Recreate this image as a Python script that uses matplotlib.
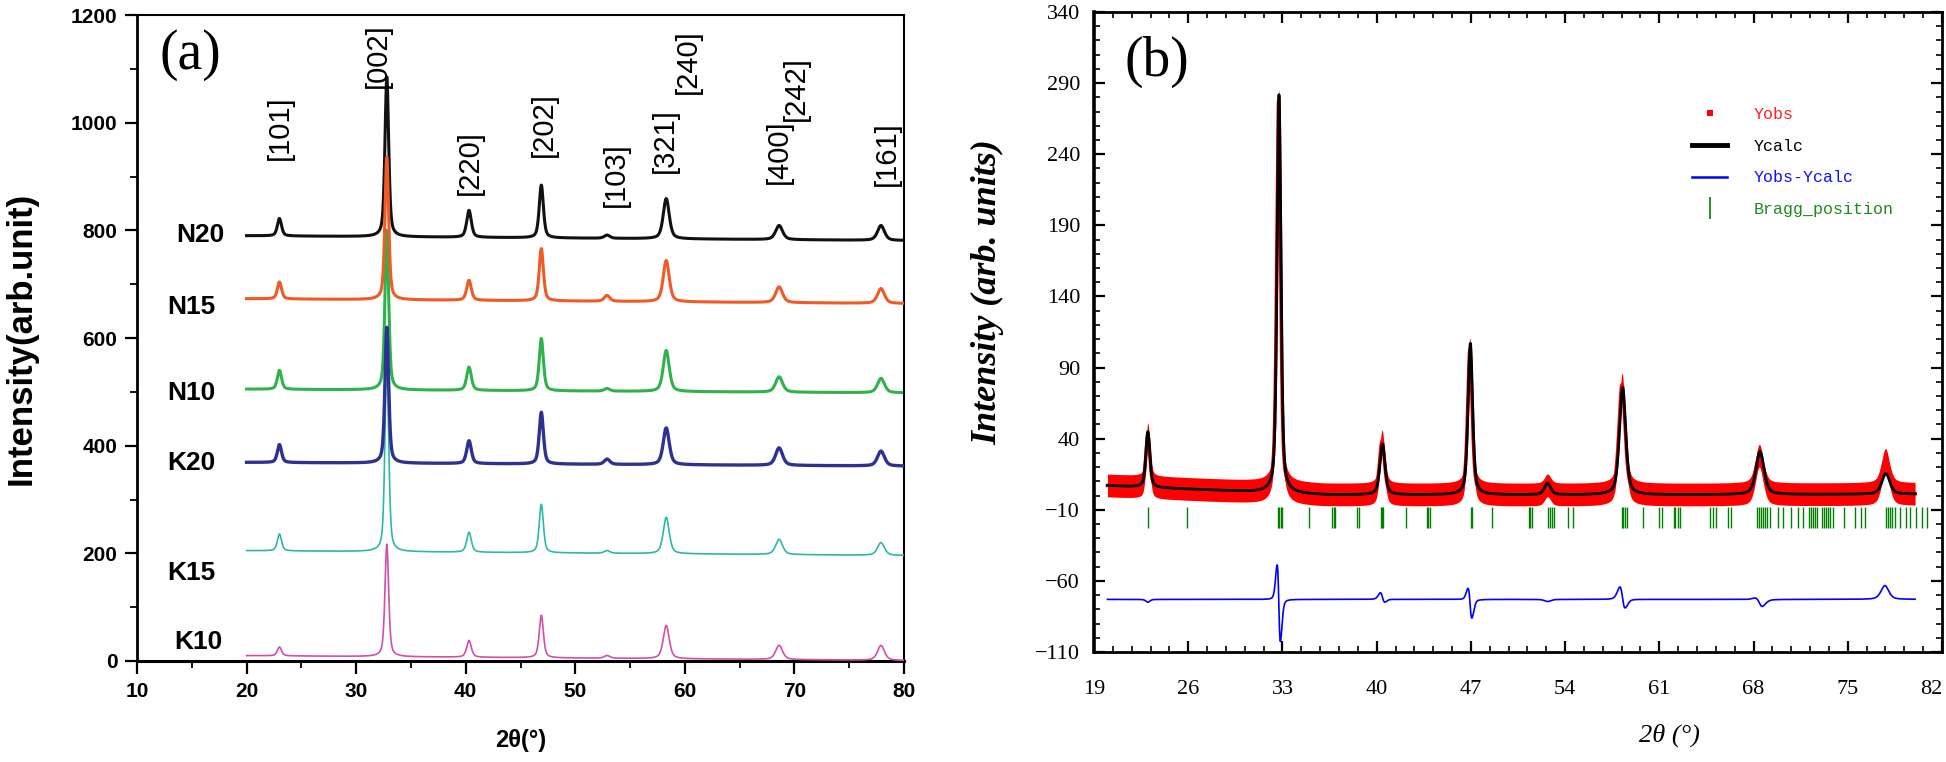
import numpy as np
import matplotlib
matplotlib.use('Agg')
import matplotlib.pyplot as plt
from matplotlib.lines import Line2D
from matplotlib.ticker import MultipleLocator, FixedLocator
from matplotlib.font_manager import FontProperties

# ---------------- Panel (a) data ----------------
theta_a = [20, 80]
peak_pos_a = [23.0, 32.8, 40.3, 46.9, 52.9, 58.3, 68.6, 77.9]
peak_fwhm_a = [0.45, 0.40, 0.50, 0.45, 0.60, 0.65, 0.75, 0.75]
samples = ['N20', 'N15', 'N10', 'K20', 'K15', 'K10']
base_start = [790, 673, 505, 369, 205, 10]
base_end = [781, 664, 498, 362, 196, 1]
top_N20 = [822, 1085, 837, 884, 791, 859, 809, 809]
top_N15 = [704, 936, 707, 766, 679, 744, 695, 692]
top_N10 = [540, 800, 546, 599, 506, 577, 528, 525]
top_K20 = [402, 620, 409, 462, 375, 433, 396, 390]
top_K15 = [236, 560, 239, 291, 205, 267, 226, 220]
top_K10 = [26, 217, 38, 85, 10, 66, 29, 29]
tops_a = [top_N20, top_N15, top_N10, top_K20, top_K15, top_K10]
colors_a = ['#111111', '#F15A24', '#2EB34A', '#2E3192', '#2BB8A6', '#D24FA8']
miller_labels = ['[101]', '[002]', '[220]', '[202]', '[103]', '[321]', '[240]', '[400]', '[242]', '[161]']
miller_x = [23.0, 32.0, 40.4, 47.1, 53.7, 58.2, 60.3, 68.6, 70.1, 78.4]
miller_y = [991, 1124, 926, 997, 904, 967, 1113, 946, 1063, 942]
sample_x = [15.8, 15.0, 15.0, 15.0, 15.0, 15.6]
sample_y = [791, 658, 497, 367, 163, 36]

# ---------------- Panel (b) data ----------------
theta_b = [20, 80]
calc_pos_b = [23.0, 32.745, 40.43, 46.96, 52.7, 58.27, 68.48, 77.83]
obs_pos_b = [23.0, 32.72, 40.40, 46.93, 52.7, 58.23, 68.43, 77.80]
fwhm_b = [0.35, 0.34, 0.45, 0.40, 0.55, 0.55, 0.70, 0.70]
calc_top_b = [45, 282, 36, 107, 8.5, 76, 31, 15.5]
obs_top_b = [43, 278, 38, 103, 7, 78, 28, 25]
bg_theta_b = [20, 26, 31, 36, 60, 80]
bg_int_b = [7, 4.5, 2.5, 0.5, 0.5, 1.0]
obs_spread_b = 8
diff_offset_b = -73
bragg_pos = [23.0, 25.9, 32.70, 32.78, 32.86, 32.95, 34.96, 36.7, 36.8, 36.9,
             38.55, 38.7, 40.3, 40.4, 40.5, 42.16, 43.75, 43.85, 43.95, 47.0,
             47.05, 48.6, 51.3, 51.4, 51.55, 52.7, 52.85, 53.0, 53.15, 54.2,
             54.6, 58.2, 58.3, 58.45, 58.6, 59.8, 60.95, 61.2, 62.1, 62.2,
             62.35, 62.5, 64.75, 65.0, 65.2, 66.1, 66.3, 68.25, 68.4, 68.55,
             68.7, 68.85, 69.0, 69.2, 69.8, 70.2, 70.75, 71.3, 71.7, 72.1,
             72.25, 72.4, 72.55, 72.7, 73.1, 73.25, 73.4, 73.55, 73.7, 73.9,
             74.75, 75.5, 76.0, 76.3, 77.85, 78.0, 78.15, 78.3, 78.5, 78.9,
             79.3, 79.6, 80.1, 80.5, 80.9]
bragg_range = [-23, -8]
legend_labels = ['Yobs', 'Ycalc', 'Yobs-Ycalc', 'Bragg_position']
x_ticks_b = [19, 26, 33, 40, 47, 54, 61, 68, 75, 82]
y_ticks_b = [-110, -60, -10, 40, 90, 140, 190, 240, 290, 340]


def pv(x, p, w):
    h = w / 2.0
    lor = 1.0 / (1.0 + ((x - p) / h) ** 2)
    gau = np.exp(-np.log(2) * ((x - p) / h) ** 2)
    return 0.5 * lor + 0.5 * gau


def pattern(x, pos, fwhm, tops, base):
    y = base.copy()
    for p, w, t in zip(pos, fwhm, tops):
        b = np.interp(p, x, base)
        y = y + (t - b) * pv(x, p, w)
    return y


W, H = 1946, 762
fig = plt.figure(figsize=(W / 100, H / 100), dpi=100)

narrow = ['Liberation Sans Narrow', 'Liberation Sans', 'DejaVu Sans']
fp_tick_a = FontProperties(family=narrow, weight='bold', size=15)
fp_lab_a = FontProperties(family=narrow, weight='bold', size=17)
fp_samp = FontProperties(family=narrow, weight='bold', size=19)
fp_mill = FontProperties(family=['Liberation Sans', 'DejaVu Sans'], size=21)
fp_panel = FontProperties(family=['Liberation Serif', 'DejaVu Serif'], size=40)

# ================= Panel (a) =================
axa = fig.add_axes([137 / W, 1 - 661 / H, (904 - 137) / W, (661 - 15) / H])
xa = np.linspace(theta_a[0], theta_a[1], 3001)
zorders = [1, 3, 2, 5, 4, 6]
lws = [2.2, 2.2, 2.2, 2.4, 1.2, 1.2]
for i, name in enumerate(samples):
    base = base_start[i] + (base_end[i] - base_start[i]) * (xa - theta_a[0]) / (theta_a[1] - theta_a[0])
    ya = pattern(xa, peak_pos_a, peak_fwhm_a, tops_a[i], base)
    axa.plot(xa, ya, color=colors_a[i], lw=lws[i], zorder=zorders[i])
    axa.text(sample_x[i], sample_y[i], name, fontproperties=fp_samp,
             ha='center', va='center', color='black')
for lab, mx, my in zip(miller_labels, miller_x, miller_y):
    axa.text(mx, my, lab, rotation=90, ha='center', va='center', fontproperties=fp_mill)
axa.text(0.069, 0.938, '(a)', transform=axa.transAxes, ha='center', va='center',
         fontproperties=fp_panel)

axa.set_xlim(10, 80)
axa.set_ylim(0, 1200)
axa.xaxis.set_major_locator(MultipleLocator(10))
axa.xaxis.set_minor_locator(MultipleLocator(5))
axa.yaxis.set_major_locator(MultipleLocator(200))
axa.yaxis.set_minor_locator(MultipleLocator(100))
axa.tick_params(which='major', direction='out', length=9, width=1.6, pad=5)
axa.tick_params(which='minor', direction='out', length=5, width=1.3)
axa.tick_params(axis='x', which='major', pad=6)
for lbl in axa.get_xticklabels() + axa.get_yticklabels():
    lbl.set_fontproperties(fp_tick_a)
for s in axa.spines.values():
    s.set_linewidth(1.5)
axa.spines['left'].set_linewidth(2.0)
axa.spines['bottom'].set_linewidth(2.2)
axa.set_xlabel('2θ(°)', fontproperties=fp_lab_a, va='center')
axa.xaxis.set_label_coords(0.5, (661 - 741) / 646)
axa.set_ylabel('Intensity(arb.unit)', fontproperties=FontProperties(
    family=['Liberation Sans', 'DejaVu Sans'], weight='bold', size=25), va='center')
axa.yaxis.set_label_coords((21 - 137) / 767, 0.5)

# ================= Panel (b) =================
axb = fig.add_axes([1094 / W, 1 - 652 / H, (1942 - 1094) / W, (652 - 12) / H])
xb = np.linspace(theta_b[0], theta_b[1], 3001)
bg = np.interp(xb, bg_theta_b, bg_int_b)
ycalc = pattern(xb, calc_pos_b, fwhm_b, calc_top_b, bg)
yobs = pattern(xb, obs_pos_b, fwhm_b, obs_top_b, bg)
axb.fill_between(xb, yobs - obs_spread_b, yobs + obs_spread_b, color='#FF0000', lw=0, zorder=2)
axb.plot(xb, yobs, color='#FF0000', lw=2.5, zorder=2)
axb.plot(xb, ycalc, color='black', lw=2.0, zorder=3)
axb.plot(xb, diff_offset_b + (yobs - ycalc), color='#0000FF', lw=1.2, zorder=3)
axb.vlines(bragg_pos, bragg_range[0], bragg_range[1], color='#008000', lw=1.0, zorder=2)

axb.set_xlim(19, 82)
axb.set_ylim(-110, 340)
axb.xaxis.set_major_locator(FixedLocator(x_ticks_b))
axb.xaxis.set_minor_locator(FixedLocator(np.arange(19, 82.01, 1.4)))
axb.yaxis.set_major_locator(FixedLocator(y_ticks_b))
axb.yaxis.set_minor_locator(MultipleLocator(10))
axb.tick_params(which='both', direction='in', top=True, right=True)
axb.tick_params(which='major', length=8, width=1.6)
axb.tick_params(which='minor', length=4.5, width=1.2)
axb.tick_params(axis='x', which='major', pad=20)
axb.tick_params(axis='y', which='major', pad=10)
fp_tick_b = FontProperties(family=['Liberation Serif', 'DejaVu Serif'], size=16)
for lbl in axb.get_xticklabels() + axb.get_yticklabels():
    lbl.set_fontproperties(fp_tick_b)
xtl = axb.get_xticklabels()
xtl[-1].set_horizontalalignment('right')
for s in axb.spines.values():
    s.set_linewidth(2.0)
axb.spines['left'].set_linewidth(2.6)
axb.set_xlabel('2θ (°)', fontproperties=FontProperties(
    family=['Liberation Serif', 'DejaVu Serif'], style='italic', size=19), va='center')
axb.xaxis.set_label_coords((1669 - 1094) / 848, (652 - 735) / 640)
axb.set_ylabel('Intensity (arb. units)', fontproperties=FontProperties(
    family=['Liberation Serif', 'DejaVu Serif'], style='italic', weight='bold', size=26),
    va='center')
axb.yaxis.set_label_coords((988 - 1094) / 848, (652 - 292) / 640)
axb.text(0.074, 0.922, '(b)', transform=axb.transAxes, ha='center', va='center',
         fontproperties=fp_panel)

handles = [Line2D([], [], ls='none', marker='s', ms=4.5, mew=0, color='#FF0000'),
           Line2D([], [], color='black', lw=3.5),
           Line2D([], [], color='#0000FF', lw=1.8),
           Line2D([], [], ls='none', marker='|', ms=16, mew=1.2, color='#008000')]
axb.legend(handles, legend_labels, loc='upper left',
           bbox_to_anchor=(1692 / W, 1 - 107 / H), bbox_transform=fig.transFigure,
           frameon=False, prop=FontProperties(family=['Liberation Mono', 'DejaVu Sans Mono'], size=12),
           handlelength=2.1, handletextpad=1.6, labelspacing=1.0, borderpad=0,
           borderaxespad=0, labelcolor=['#FF2020', 'black', '#1010FF', '#1E8B1E'])

fig.savefig('out.png', dpi=100)
